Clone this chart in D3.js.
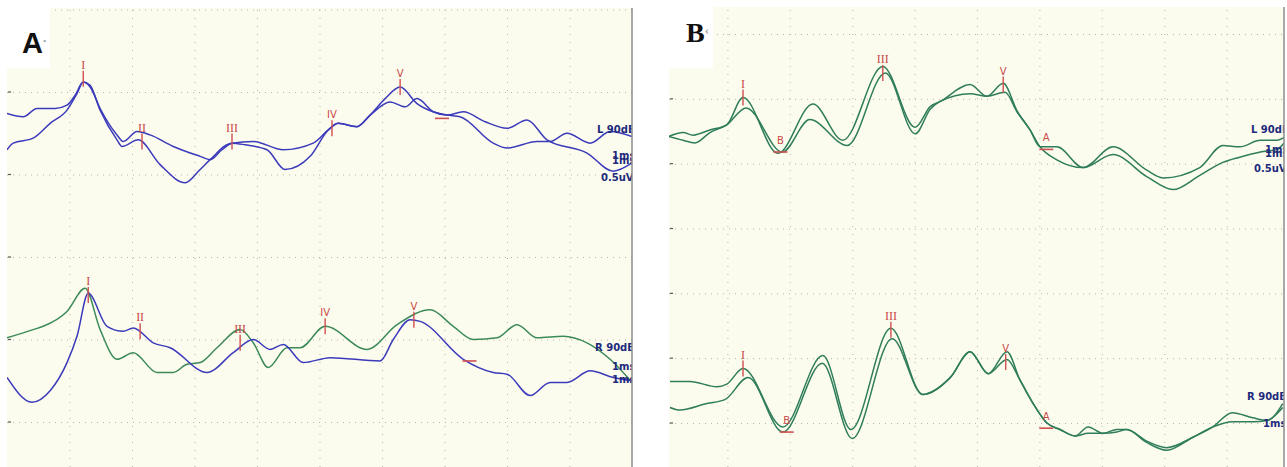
<!DOCTYPE html>
<html>
<head>
<meta charset="utf-8">
<script src="https://cdn.jsdelivr.net/npm/d3@7"></script>
<style>
  body { margin: 0; background: #ffffff; }
</style>
</head>
<body>
<svg id="drawing_region" width="1287" height="467"></svg>
<script>
// each trace: [time in ms, amplitude in uV], picked at peaks / troughs
const aTopL1 = [[0,1.87],[0.26,1.85],[0.48,1.90],[0.77,1.90],[0.96,1.92],[1.09,1.98],[1.22,2.06],[1.33,2.03],[1.49,1.90],[1.76,1.74],[1.86,1.70],[2.08,1.76],[2.29,1.74],[2.66,1.67],[3.09,1.61],[3.25,1.59],[3.44,1.65],[3.60,1.69],[3.94,1.70],[4.42,1.65],[4.90,1.69],[5.14,1.77],[5.30,1.81],[5.60,1.79],[5.81,1.86],[6.13,1.94],[6.37,1.91],[6.56,1.96],[6.82,1.88],[7.04,1.86],[7.30,1.88],[7.65,1.82],[8.00,1.78],[8.32,1.83],[8.64,1.71],[9.28,1.63],[9.70,1.52],[10,1.57]];
const aTopL2 = [[0,1.65],[0.10,1.69],[0.42,1.72],[0.69,1.81],[0.96,1.89],[1.12,1.99],[1.22,2.06],[1.33,2.04],[1.49,1.89],[1.76,1.71],[1.84,1.67],[2.10,1.71],[2.45,1.56],[2.85,1.45],[3.09,1.53],[3.25,1.59],[3.60,1.69],[3.81,1.68],[4.16,1.65],[4.45,1.53],[4.85,1.61],[5.14,1.77],[5.30,1.81],[5.60,1.79],[5.81,1.86],[6.05,1.96],[6.29,2.03],[6.56,1.93],[6.82,1.88],[7.04,1.86],[7.25,1.85],[7.78,1.69],[8.00,1.66],[8.48,1.70],[8.69,1.70],[8.96,1.75],[9.33,1.69],[9.65,1.76],[10,1.73]];
const aBotR1 = [[0,0.51],[0.42,0.56],[0.58,0.58],[0.96,0.67],[1.25,0.81],[1.49,0.56],[1.76,0.38],[2.02,0.42],[2.40,0.30],[2.66,0.30],[2.88,0.35],[3.09,0.36],[3.36,0.45],[3.73,0.56],[3.94,0.48],[4.18,0.33],[4.48,0.45],[4.69,0.45],[5.09,0.58],[5.76,0.44],[6.24,0.59],[6.77,0.68],[7.14,0.58],[7.46,0.50],[7.84,0.51],[8.16,0.59],[8.48,0.51],[8.90,0.52],[9.28,0.48],[9.65,0.38],[10,0.24]];
const aBotR2 = [[0,0.27],[0.40,0.12],[0.69,0.19],[0.96,0.36],[1.12,0.52],[1.30,0.78],[1.60,0.58],[1.86,0.55],[2.02,0.57],[2.34,0.48],[2.61,0.45],[3.20,0.30],[3.62,0.42],[3.94,0.50],[4.21,0.44],[4.42,0.47],[4.74,0.36],[5.17,0.39],[5.97,0.37],[6.18,0.50],[6.45,0.62],[6.61,0.61],[7.30,0.38],[7.78,0.30],[8.00,0.29],[8.37,0.16],[8.69,0.24],[8.96,0.24],[9.33,0.31],[9.70,0.27],[10,0.25]];

const bTopL1 = [[0.06,2.21],[0.29,2.24],[0.45,2.22],[0.72,2.26],[0.99,2.30],[1.25,2.51],[1.81,2.08],[2.37,2.46],[2.85,2.18],[3.49,2.75],[4.01,2.28],[4.25,2.44],[4.41,2.48],[4.89,2.61],[5.16,2.52],[5.42,2.62],[5.64,2.41],[5.85,2.26],[6.01,2.13],[6.28,2.13],[6.70,1.97],[7.18,2.13],[7.72,1.95],[7.98,1.89],[8.57,1.97],[8.94,2.14],[9.21,2.13],[9.54,2.18],[9.81,2.18],[9.92,2.20]];
const bTopL2 = [[0.06,2.21],[0.29,2.18],[0.48,2.16],[0.72,2.24],[0.99,2.30],[1.30,2.43],[1.88,2.09],[2.32,2.34],[2.92,2.14],[3.53,2.70],[4.01,2.23],[4.25,2.42],[4.41,2.48],[4.89,2.54],[5.16,2.52],[5.45,2.55],[5.64,2.40],[5.85,2.26],[6.01,2.13],[6.28,2.03],[6.70,1.97],[7.18,2.07],[7.72,1.90],[8.14,1.80],[8.57,1.91],[8.94,2.01],[9.21,2.05],[9.54,2.09],[9.81,2.11],[9.92,2.16]];
const bBotR1 = [[0.08,0.32],[0.40,0.32],[0.83,0.28],[0.99,0.30],[1.25,0.42],[1.89,-0.03],[2.53,0.52],[2.98,-0.05],[3.62,0.73],[4.13,0.22],[4.57,0.35],[4.89,0.55],[5.18,0.38],[5.48,0.55],[5.69,0.33],[5.90,0.15],[6.12,0.00],[6.33,-0.05],[6.57,-0.10],[6.78,-0.03],[7.02,-0.08],[7.24,-0.05],[7.40,-0.05],[7.72,-0.14],[8.04,-0.19],[8.46,-0.11],[8.78,-0.03],[9.09,0.08],[9.42,0.04],[9.65,0.02],[9.90,0.15]];
const bBotR2 = [[0.08,0.12],[0.24,0.10],[0.67,0.15],[0.96,0.18],[1.33,0.35],[1.89,-0.07],[2.52,0.46],[3.00,-0.12],[3.64,0.65],[4.13,0.22],[4.57,0.35],[4.89,0.55],[5.18,0.38],[5.48,0.49],[5.69,0.33],[5.90,0.15],[6.12,0.00],[6.33,-0.05],[6.57,-0.10],[6.78,-0.08],[7.02,-0.08],[7.24,-0.07],[7.40,-0.05],[7.72,-0.15],[8.04,-0.21],[8.46,-0.11],[8.78,-0.03],[9.09,0.01],[9.42,0.01],[9.65,0.02],[9.90,0.12]];

// wave markers: [label, ms, uV, "v" vertical cursor / "h" horizontal cursor]
const aTopPeaks = [["I",1.22,2.08,"v"],["II",2.16,1.70,"v"],["III",3.60,1.70,"v"],["IV",5.20,1.78,"v"],["V",6.29,2.03,"v"],["",6.96,1.84,"h"]];
const aBotPeaks = [["I",1.30,0.77,"v"],["II",2.13,0.55,"v"],["III",3.73,0.48,"v"],["IV",5.09,0.58,"v"],["V",6.51,0.62,"v"],["",7.40,0.37,"h"]];
const bTopPeaks = [["I",1.25,2.51,"v"],["B",1.85,2.09,"h"],["III",3.49,2.70,"v"],["V",5.42,2.61,"v"],["A",6.11,2.11,"h"]];
const bBotPeaks = [["I",1.25,0.42,"v"],["B",1.95,-0.07,"h"],["III",3.62,0.72,"v"],["V",5.46,0.47,"v"],["A",6.11,-0.04,"h"]];

const aTopTags = ["L 90dB", "1ms", "1ms", "0.5uV"];
const aBotTags = ["R 90dB", "1ms", "1ms"];
const bTopTags = ["L 90dB", "1ms", "1ms", "0.5uV"];
const bBotTags = ["R 90dB", "1ms"];

const timeGrid = [1, 2, 3, 4, 5, 6, 7, 8, 9];

const BLUE = "#3a3abb";
const GREEN_A = "#3b8a58";
const GREEN_B = "#2f7d5a";

class AbrPanel {

    constructor( config ) {
        this.config = config;
        this.init();
    }

    init() {
        let self = this;
        let c = self.config;

        self.svg = d3.select( c.parent );
        self.chart = self.svg.append('g');

        self.xscale = d3.scaleLinear()
            .domain( [0, 10] )
            .range( c.xrange );

        self.yscale = d3.scaleLinear()
            .domain( c.ydomain )
            .range( c.yrange );

        self.clipId = "clip" + c.letter;
        self.svg.append('clipPath')
            .attr('id', self.clipId)
            .append('rect')
            .attr('x', c.left).attr('y', c.top)
            .attr('width', c.right - c.left).attr('height', c.bottom - c.top);
    }

    render() {
        let self = this;
        let c = self.config;

        // cream paper
        self.chart.append('rect')
            .attr('x', c.left).attr('y', c.top)
            .attr('width', c.right - c.left).attr('height', c.bottom - c.top)
            .attr('fill', "#fcfcee");

        const grid = self.chart.append('g').attr('clip-path', `url(#${self.clipId})`);

        // vertical dotted grid (1 ms)
        grid.append('g')
            .attr('transform', `translate(0, ${c.bottom})`)
            .call( d3.axisBottom( self.xscale ).tickValues( timeGrid ).tickSize( -(c.bottom - c.top) ).tickFormat("") )
            .call( g => g.select('.domain').remove() )
            .selectAll('line')
            .attr('stroke', "#b4b4aa")
            .attr('stroke-dasharray', "1,7");

        // horizontal dotted grid (0.5 uV)
        grid.append('g')
            .attr('transform', `translate(${c.left}, 0)`)
            .call( d3.axisLeft( self.yscale ).tickValues( c.ygrid ).tickSize( -(c.right - c.left) ).tickFormat("") )
            .call( g => g.select('.domain').remove() )
            .selectAll('line')
            .attr('stroke', "#b4b4aa")
            .attr('stroke-dasharray', "1,5");

        // small dark marks at the left edge
        grid.selectAll('.edge')
            .data( c.ygrid )
            .enter()
            .append('line')
            .attr('x1', c.left + 1).attr('x2', c.left + 4)
            .attr('y1', d => self.yscale(d)).attr('y2', d => self.yscale(d))
            .attr('stroke', "#555").attr('stroke-width', 1.2);

        // white corner with the panel letter
        self.chart.append('rect')
            .attr('x', c.left).attr('y', c.top)
            .attr('width', c.box[0] - c.left).attr('height', c.box[1] - c.top)
            .attr('fill', "#ffffff");

        const letter = self.chart.append('text')
            .attr('x', c.letterPos[0]).attr('y', c.letterPos[1])
            .attr('font-family', c.letterFont)
            .attr('font-weight', "bold")
            .attr('font-size', c.letterSize)
            .attr('fill', "#111");
        letter.append('tspan').text(c.letter);
        letter.append('tspan')
            .attr('font-size', 12).attr('fill', "#999").attr('dy', -8)
            .text(c.letterTail);

        // traces
        const line = d3.line()
            .x( d => self.xscale( d[0] ) )
            .y( d => self.yscale( d[1] ) )
            .curve( d3.curveMonotoneX );

        const plot = self.chart.append('g').attr('clip-path', `url(#${self.clipId})`);

        plot.selectAll('path')
            .data( c.traces )
            .enter()
            .append('path')
            .attr('d', d => line( d.data ))
            .attr('fill', "none")
            .attr('stroke', d => d.color)
            .attr('stroke-width', 1.5)
            .attr('stroke-linejoin', "round");

        // wave markers
        const mark = plot.selectAll('.mark')
            .data( c.peaks )
            .enter()
            .append('g')
            .attr('transform', d => `translate(${self.xscale(d[1])}, ${self.yscale(d[2])})`);

        mark.filter( d => d[3] == "v" )
            .append('line')
            .attr('x1', 0).attr('x2', 0).attr('y1', -8).attr('y2', 8)
            .attr('stroke', "#d05050").attr('stroke-width', 1.4);

        mark.filter( d => d[3] == "h" )
            .append('line')
            .attr('x1', -7).attr('x2', 7).attr('y1', 0).attr('y2', 0)
            .attr('stroke', "#d05050").attr('stroke-width', 1.6);

        mark.append('text')
            .attr('text-anchor', "middle")
            .attr('y', d => d[3] == "v" ? -10 : -8)
            .attr('font-family', d => /^I+$/.test(d[0]) ? "Liberation Serif" : "DejaVu Sans")
            .attr('font-size', d => /^I+$/.test(d[0]) ? 12 : 10)
            .attr('fill', "#c84848")
            .text( d => d[0] );

        // gain / level tags at the right edge
        plot.selectAll('.tag')
            .data( c.tags )
            .enter()
            .append('text')
            .attr('x', d => c.right + d.dx)
            .attr('y', d => d.y)
            .attr('font-family', "DejaVu Sans")
            .attr('font-weight', "bold")
            .attr('font-size', 10)
            .attr('fill', "#1d2a7c")
            .text( d => d.text );

        // right border
        self.chart.append('line')
            .attr('x1', c.right).attr('x2', c.right)
            .attr('y1', c.top).attr('y2', c.bottom)
            .attr('stroke', "#8c8c8c").attr('stroke-width', 1.5);
    }
}

const panelA = new AbrPanel({
    parent: '#drawing_region',
    letter: "A", letterTail: "·",
    letterFont: "Liberation Sans", letterSize: 29, letterPos: [22, 53],
    left: 7, top: 8, right: 632, bottom: 467,
    box: [50, 68],
    xrange: [7, 632],
    ydomain: [0, 2.5], yrange: [422, 9.5],
    ygrid: [0, 0.5, 1, 1.5, 2, 2.5],
    traces: [
        { data: aTopL1, color: BLUE },
        { data: aTopL2, color: BLUE },
        { data: aBotR1, color: GREEN_A },
        { data: aBotR2, color: BLUE }
    ],
    peaks: aTopPeaks.concat( aBotPeaks ),
    tags: [
        { text: aTopTags[0], dx: -35, y: 133 },
        { text: aTopTags[1], dx: -20, y: 159 },
        { text: aTopTags[2], dx: -20, y: 164 },
        { text: aTopTags[3], dx: -31, y: 181 },
        { text: aBotTags[0], dx: -37, y: 351 },
        { text: aBotTags[1], dx: -20, y: 370 },
        { text: aBotTags[2], dx: -20, y: 383 }
    ]
});
panelA.render();

const panelB = new AbrPanel({
    parent: '#drawing_region',
    letter: "B", letterTail: "‹",
    letterFont: "Liberation Serif", letterSize: 28, letterPos: [686, 42],
    left: 669, top: 7, right: 1284, bottom: 467,
    box: [713, 68],
    xrange: [665, 1289],
    ydomain: [0, 3], yrange: [423, 34],
    ygrid: [0, 0.5, 1, 1.5, 2, 2.5, 3],
    traces: [
        { data: bTopL1, color: GREEN_B },
        { data: bTopL2, color: GREEN_B },
        { data: bBotR1, color: GREEN_B },
        { data: bBotR2, color: GREEN_B }
    ],
    peaks: bTopPeaks.concat( bBotPeaks ),
    tags: [
        { text: bTopTags[0], dx: -33, y: 133 },
        { text: bTopTags[1], dx: -19, y: 153 },
        { text: bTopTags[2], dx: -19, y: 157 },
        { text: bTopTags[3], dx: -30, y: 172 },
        { text: bBotTags[0], dx: -37, y: 400 },
        { text: bBotTags[1], dx: -21, y: 427 }
    ]
});
panelB.render();
</script>
</body>
</html>
